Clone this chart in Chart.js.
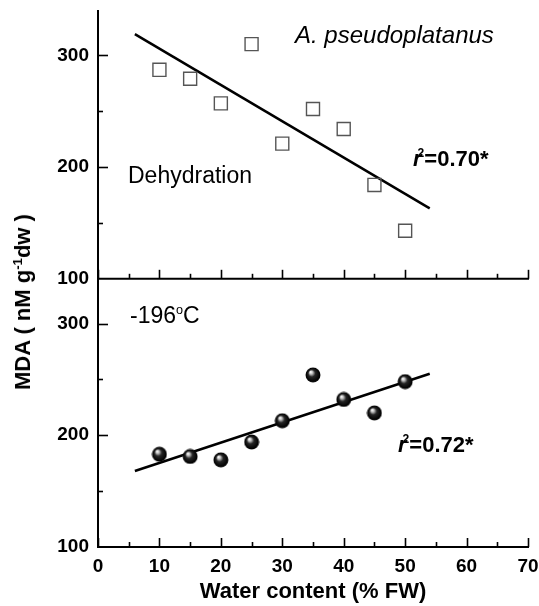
<!DOCTYPE html>
<html>
<head>
<meta charset="utf-8">
<script src="https://cdn.jsdelivr.net/npm/chart.js@4.4.1/dist/chart.umd.min.js"></script>
<style>
  html, body { margin: 0; padding: 0; background: #fff; }
  #wrap { position: relative; width: 539px; height: 606px; font-family: "Liberation Sans", Arial, sans-serif; color: #000; }
  .note { position: absolute; white-space: nowrap; line-height: 1; }
  .note sup { font-size: 0.55em; position: relative; top: -0.75em; vertical-align: baseline; }
  #ytitle { position: absolute; left: 23px; top: 302px; white-space: nowrap; line-height: 1;
            font-weight: bold; font-size: 22px; transform: translate(-50%, -50%) rotate(-90deg); }
  #ytitle sup { font-size: 0.6em; position: relative; top: -0.6em; vertical-align: baseline; }
</style>
</head>
<body>
<div id="wrap">
  <canvas id="myChart" width="539" height="606"></canvas>
  <div id="ytitle">MDA ( nM g<sup>-1</sup>dw )</div>
  <div class="note" style="left:295px; top:23px; font-size:24px; font-style:italic;">A. pseudoplatanus</div>
  <div class="note" style="left:128px; top:164px; font-size:23px;">Dehydration</div>
  <div class="note" style="left:413px; top:148px; font-size:22px; font-weight:bold;"><i>r</i><sup style="margin-left:-4px">2</sup>=0.70*</div>
  <div class="note" style="left:130px; top:304px; font-size:23px;">-196<sup>o</sup>C</div>
  <div class="note" style="left:398px; top:434px; font-size:22px; font-weight:bold;"><i>r</i><sup style="margin-left:-4px">2</sup>=0.72*</div>
</div>
<script>
  const waterContent = [10, 15, 20, 25, 30, 35, 40, 45, 50];
  const mdaDehydration = [287, 279, 257, 310, 221, 252, 234, 184, 143];
  const mdaFrozen = [183, 181, 178, 194, 213, 254, 232, 220, 248];

  // end points of the fitted regression lines
  const fitX = [6, 54];
  const fitDehydration = [319, 163];
  const fitFrozen = [168, 255];

  const xTicks = [0, 10, 20, 30, 40, 50, 60, 70];
  const yTicks = [100, 200, 300];

  const fontFamily = '"Liberation Sans", Arial, sans-serif';

  function toPoints(xs, ys) {
    return xs.map((x, i) => ({ x: x, y: ys[i] }));
  }

  function makeSphere(d) {
    const c = document.createElement("canvas");
    c.width = d;
    c.height = d;
    const g = c.getContext("2d");
    const r = d / 2;
    const grad = g.createRadialGradient(r * 0.7, r * 0.62, r * 0.04, r * 1.05, r * 1.05, r);
    grad.addColorStop(0, "#ffffff");
    grad.addColorStop(0.18, "#bdbdbd");
    grad.addColorStop(0.42, "#262626");
    grad.addColorStop(0.85, "#000000");
    grad.addColorStop(1, "#2a2a2a");
    g.fillStyle = grad;
    g.beginPath();
    g.arc(r, r, r - 0.5, 0, Math.PI * 2);
    g.fill();
    return c;
  }

  // inward ticks, minor ticks and the x axis line of the upper panel
  const innerTicks = {
    id: "innerTicks",
    afterDraw(chart) {
      const { ctx } = chart;
      const x = chart.scales.x;
      const panels = [chart.scales.yTop, chart.scales.yBottom];
      ctx.save();
      ctx.strokeStyle = "#000";
      ctx.lineWidth = 2;
      ctx.beginPath();
      ctx.moveTo(x.left - 1, chart.scales.yTop.bottom);
      ctx.lineTo(x.right + 1, chart.scales.yTop.bottom);
      ctx.stroke();
      ctx.lineWidth = 1.6;
      panels.forEach((panel) => {
        const base = panel.bottom;
        for (let v = x.min; v <= x.max; v += 5) {
          const px = Math.round(x.getPixelForValue(v)) + 0.5;
          const len = v % 10 === 0 ? 9 : 5;
          ctx.beginPath();
          ctx.moveTo(px, base);
          ctx.lineTo(px, base - len);
          ctx.stroke();
        }
        for (let v = 150; v < panel.max; v += 50) {
          const py = Math.round(panel.getPixelForValue(v)) + 0.5;
          const len = v % 100 === 0 ? 10 : 5;
          ctx.beginPath();
          ctx.moveTo(x.left, py);
          ctx.lineTo(x.left + len, py);
          ctx.stroke();
        }
      });
      ctx.restore();
    }
  };

  function yAxis(weight) {
    return {
      type: "linear",
      position: "left",
      stack: "panels",
      stackWeight: weight,
      min: 100,
      max: 340,
      border: { color: "#000", width: 2 },
      grid: { display: true, drawOnChartArea: false, drawTicks: false },
      afterBuildTicks: (scale) => {
        scale.ticks = yTicks.map((v) => ({ value: v }));
      },
      afterFit: (scale) => {
        scale.width = 98;
        scale.paddingTop = 0;
        scale.paddingBottom = 0;
      },
      ticks: {
        color: "#000",
        padding: 9,
        font: { family: fontFamily, size: 19, weight: "bold" }
      }
    };
  }

  const sphere = makeSphere(16);
  const ctx = document.getElementById("myChart").getContext("2d");

  const chart = new Chart(ctx, {
    type: "scatter",
    data: {
      datasets: [
        {
          label: "Dehydration",
          data: toPoints(waterContent, mdaDehydration),
          yAxisID: "yTop",
          pointStyle: "rect",
          pointRadius: 9.2,
          pointHoverRadius: 9.2,
          pointBorderWidth: 1.4,
          borderColor: "#555",
          backgroundColor: "rgba(255,255,255,0)"
        },
        {
          label: "-196 C",
          data: toPoints(waterContent, mdaFrozen),
          yAxisID: "yBottom",
          pointStyle: sphere,
          pointRadius: 8
        },
        {
          label: "Dehydration fit",
          data: toPoints(fitX, fitDehydration),
          yAxisID: "yTop",
          showLine: true,
          pointRadius: 0,
          borderColor: "#000",
          borderWidth: 2.5
        },
        {
          label: "-196 C fit",
          data: toPoints(fitX, fitFrozen),
          yAxisID: "yBottom",
          showLine: true,
          pointRadius: 0,
          borderColor: "#000",
          borderWidth: 2.5
        }
      ]
    },
    options: {
      responsive: false,
      animation: false,
      layout: { padding: { top: 10, right: 11, left: 0, bottom: 0 } },
      plugins: {
        legend: { display: false },
        tooltip: { enabled: false }
      },
      scales: {
        x: {
          type: "linear",
          position: "bottom",
          min: 0,
          max: 70,
          border: { color: "#000", width: 2 },
          grid: { display: true, drawOnChartArea: false, drawTicks: false },
          afterBuildTicks: (scale) => {
            scale.ticks = xTicks.map((v) => ({ value: v }));
          },
          afterFit: (scale) => {
            scale.height = 59;
            scale.paddingLeft = 0;
            scale.paddingRight = 0;
          },
          ticks: {
            color: "#000",
            padding: 8,
            font: { family: fontFamily, size: 19, weight: "bold" }
          },
          title: {
            display: true,
            text: "Water content (% FW)",
            color: "#000",
            padding: { top: 4, bottom: 1 },
            font: { family: fontFamily, size: 22, weight: "bold" }
          }
        },
        yBottom: yAxis(1),
        yTop: yAxis(1)
      }
    },
    plugins: [innerTicks]
  });
</script>
</body>
</html>
